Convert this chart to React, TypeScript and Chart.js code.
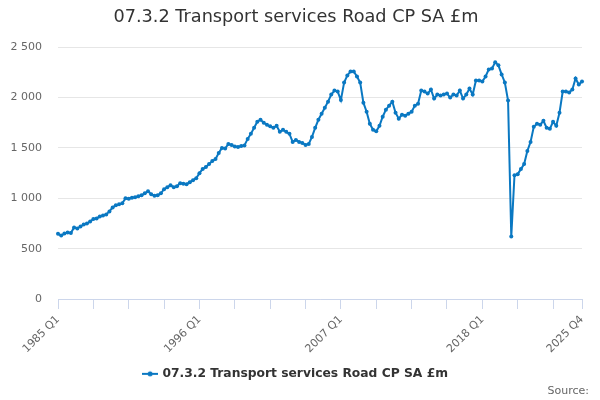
import { useEffect, useRef } from 'react'
import Chart from 'chart.js/auto'

const TITLE = '07.3.2 Transport services Road CP SA £m'
const SERIES_NAME = '07.3.2 Transport services Road CP SA £m'
const FIRST_YEAR = 1985
const LAST_YEAR = 2025

// quarterly values, 1985 Q1 .. 2025 Q4 (£m)
const values: number[] = [
  647, 630, 650, 660, 655, 710, 700, 720,
  740, 750, 770, 795, 800, 820, 830, 840,
  870, 910, 930, 940, 950, 1000, 995, 1005,
  1010, 1020, 1030, 1050, 1070, 1040, 1025, 1030,
  1050, 1090, 1110, 1130, 1110, 1120, 1150, 1145,
  1140, 1160, 1180, 1200, 1250, 1290, 1310, 1340,
  1370, 1390, 1450, 1500, 1495, 1540, 1530, 1515,
  1510, 1520, 1525, 1590, 1640, 1700, 1760, 1780,
  1750, 1730, 1715, 1700, 1720, 1660, 1680, 1660,
  1640, 1560, 1580, 1560, 1550, 1530, 1540, 1610,
  1700, 1780, 1840, 1900, 1960, 2030, 2070, 2060,
  1975, 2150, 2220, 2260, 2260, 2210, 2150, 1950,
  1860, 1740, 1680, 1665, 1720, 1810, 1880, 1920,
  1960, 1850, 1790, 1830, 1820, 1840, 1860, 1920,
  1940, 2070, 2060, 2040, 2080, 1990, 2030, 2020,
  2030, 2040, 2000, 2030, 2020, 2070, 1990, 2030,
  2090, 2030, 2170, 2170, 2160, 2210, 2280, 2290,
  2350, 2320, 2230, 2150, 1970, 620, 1230, 1240,
  1290, 1340, 1470, 1560, 1710, 1740, 1730, 1770,
  1700, 1690, 1760, 1720, 1850, 2060, 2060, 2050,
  2080, 2190, 2130, 2160,
]

const quarters: string[] = []
for (let y = FIRST_YEAR; y <= LAST_YEAR; y++) {
  for (let q = 1; q <= 4; q++) quarters.push(`${y} Q${q}`)
}

// tick marks every 11 quarters, plus the last one
const tickIndexes = [0, 11, 22, 33, 44, 55, 66, 77, 88, 99, 110, 121, 132, 143, 154, 163]
const labelIndexes = [0, 44, 88, 132, 163]

const LINE_COLOR = '#0a78c2'
const FONT = '"DejaVu Sans", sans-serif'

function legendSymbol(): HTMLCanvasElement {
  const c = document.createElement('canvas')
  c.width = 16
  c.height = 8
  const ctx = c.getContext('2d')!
  ctx.strokeStyle = LINE_COLOR
  ctx.lineWidth = 2
  ctx.beginPath()
  ctx.moveTo(0, 4)
  ctx.lineTo(16, 4)
  ctx.stroke()
  ctx.fillStyle = LINE_COLOR
  ctx.beginPath()
  ctx.arc(8, 4, 2.5, 0, Math.PI * 2)
  ctx.fill()
  return c
}

const sourcePlugin = {
  id: 'sourceText',
  afterDraw(chart: Chart) {
    const ctx = chart.ctx
    ctx.save()
    ctx.font = `11px ${FONT}`
    ctx.fillStyle = '#666666'
    ctx.textAlign = 'right'
    ctx.textBaseline = 'alphabetic'
    ctx.fillText('Source:', 589, 394)
    ctx.restore()
  },
}

const App = () => {
  const canvasRef = useRef<HTMLCanvasElement>(null)
  const chartRef = useRef<Chart | null>(null)

  useEffect(() => {
    document.body.style.margin = '0'
    if (!canvasRef.current) return
    if (chartRef.current) chartRef.current.destroy()

    chartRef.current = new Chart(canvasRef.current, {
      type: 'line',
      data: {
        labels: quarters,
        datasets: [
          {
            label: SERIES_NAME,
            data: values,
            borderColor: LINE_COLOR,
            backgroundColor: LINE_COLOR,
            borderWidth: 2,
            pointRadius: 2,
            pointBorderWidth: 0,
            pointBackgroundColor: LINE_COLOR,
            tension: 0,
          },
        ],
      },
      options: {
        responsive: false,
        animation: false,
        layout: { padding: { left: 10, right: 18, top: 0, bottom: 10 } },
        plugins: {
          title: {
            display: true,
            text: TITLE,
            color: '#333333',
            font: { family: FONT, size: 17.7, weight: 'normal' },
            padding: { top: 7, bottom: 19 },
          },
          legend: {
            position: 'bottom',
            labels: {
              usePointStyle: true,
              pointStyle: legendSymbol(),
              color: '#333333',
              font: { family: FONT, size: 12.3, weight: 'bold' },
              padding: 10,
            },
          },
          tooltip: { enabled: false },
        },
        scales: {
          x: {
            type: 'category',
            afterBuildTicks: (scale: any) => {
              scale.ticks = tickIndexes.map(v => ({ value: v }))
            },
            afterFit: (scale: any) => {
              scale.paddingLeft = 0
              scale.paddingRight = 0
              scale.height -= 2
            },
            ticks: {
              autoSkip: false,
              minRotation: 45,
              maxRotation: 45,
              color: '#666666',
              font: { family: FONT, size: 11 },
              padding: 4,
              callback: function (this: any, value: any) {
                const i = Number(value)
                return labelIndexes.includes(i) ? quarters[i] : ''
              },
            },
            grid: {
              drawOnChartArea: false,
              drawTicks: true,
              tickLength: 10,
              color: '#ccd6eb',
            },
            border: { color: '#ccd6eb', width: 1 },
          },
          y: {
            min: 0,
            max: 2500,
            afterFit: (scale: any) => {
              scale.width = 48
            },
            ticks: {
              stepSize: 500,
              color: '#666666',
              font: { family: FONT, size: 11 },
              padding: 16,
              callback: (v: any) => String(v).replace(/\B(?=(\d{3})+(?!\d))/g, ' '),
            },
            grid: { color: '#e6e6e6', drawTicks: false },
            border: { display: false },
          },
        },
      },
      plugins: [sourcePlugin],
    })

    return () => {
      if (chartRef.current) {
        chartRef.current.destroy()
        chartRef.current = null
      }
    }
  }, [])

  return (
    <div style={{ width: 600, height: 400 }}>
      <canvas ref={canvasRef} width={600} height={400}></canvas>
    </div>
  )
}

export default App
